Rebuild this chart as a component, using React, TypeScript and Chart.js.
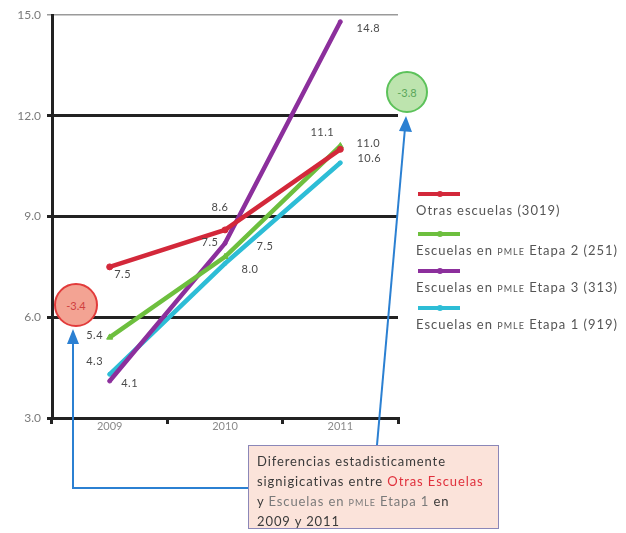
import React, { useEffect, useRef } from "react";
import { Chart, registerables } from "chart.js";

Chart.register(...registerables);

// ---- data ----
const years = ["2009", "2010", "2011"];
const otrasEscuelas = [7.5, 8.6, 11.0];
const etapa2 = [5.4, 7.8, 11.1];
const etapa3 = [4.1, 8.2, 14.8];
const etapa1 = [4.3, 7.6, 10.6];
const otrasLabels = ["7.5", "8.6", "11.0"];
const etapa2Labels = ["5.4", "7.5", "11.1"];
const etapa3Labels = ["4.1", "7.5", "14.8"];
const etapa1Labels = ["4.3", "8.0", "10.6"];
const yTickValues = [3, 6, 9, 12, 15];
const seriesNames = [
  "Otras escuelas (3019)",
  "Escuelas en PMLE Etapa 2 (251)",
  "Escuelas en PMLE Etapa 3 (313)",
  "Escuelas en PMLE Etapa 1 (919)",
];
const diffLeft = "-3.4";
const diffRight = "-3.8";

const COLORS = ["#d3283a", "#6dbf3e", "#8c2f9c", "#2dbdd6"];
const FONT = "Lato, 'Open Sans', sans-serif";

// label offsets (px) relative to each point
const LABEL_OFFSETS = [
  [[13, 8], [-5, -22], [28, -6]],
  [[-15, -2], [40, -10], [-18, -14]],
  [[20, 2], [-15, -1], [28, 7]],
  [[-15, -13], [25, 6], [29, -4]],
];

const pointLabelPlugin = {
  id: "pointLabels",
  afterDatasetsDraw(chart: any) {
    const ctx = chart.ctx;
    const labelSets = [otrasLabels, etapa2Labels, etapa3Labels, etapa1Labels];
    ctx.save();
    ctx.font = `11px ${FONT}`;
    try {
      (ctx as any).letterSpacing = "0.5px";
    } catch (e) {}
    ctx.fillStyle = "#4a4a4a";
    ctx.textAlign = "center";
    ctx.textBaseline = "middle";
    chart.data.datasets.forEach((_: any, i: number) => {
      const meta = chart.getDatasetMeta(i);
      meta.data.forEach((pt: any, j: number) => {
        const off = LABEL_OFFSETS[i][j];
        ctx.fillText(labelSets[i][j], pt.x + off[0], pt.y + off[1]);
      });
    });
    ctx.restore();
  },
};

function ChartCanvas() {
  const ref = useRef<HTMLCanvasElement | null>(null);
  useEffect(() => {
    if (!ref.current) return;
    const series = [otrasEscuelas, etapa2, etapa3, etapa1];
    const styles = ["circle", "triangle", "circle", "circle"];
    const radii = [3, 3.5, 2, 2];
    const chart = new Chart(ref.current, {
      type: "line",
      data: {
        labels: years,
        datasets: series.map((d, i) => ({
          label: seriesNames[i],
          data: d,
          borderColor: COLORS[i],
          backgroundColor: COLORS[i],
          borderWidth: 4.5,
          pointStyle: styles[i] as any,
          pointRadius: radii[i],
          pointBorderWidth: 1,
          tension: 0,
        })),
      },
      options: {
        responsive: false,
        animation: false,
        layout: { padding: { left: 0, top: 15, right: 228, bottom: 0 } },
        plugins: { legend: { display: false }, tooltip: { enabled: false } },
        scales: {
          x: {
            type: "category",
            offset: true,
            grid: {
              offset: true,
              drawOnChartArea: false,
              drawTicks: true,
              tickLength: 6,
              color: "#222",
              lineWidth: 3,
            },
            border: { display: true, color: "#222", width: 3 },
            ticks: {
              font: { family: FONT, size: 11 },
              color: "#8a8a8a",
              padding: -4,
              maxRotation: 0,
            },
            afterFit: (s: any) => {
              s.height = 115;
            },
          },
          y: {
            min: 3,
            max: 15,
            afterBuildTicks: (s: any) => {
              s.ticks = yTickValues.map((v) => ({ value: v }));
            },
            ticks: {
              callback: (v: any) => Number(v).toFixed(1),
              font: { family: FONT, size: 12 },
              color: "#7a7a7a",
              padding: 6,
            },
            grid: {
              color: (c: any) => (c.tick && c.tick.value === 15 ? "#9a9a9a" : "#222"),
              lineWidth: (c: any) => (c.tick && c.tick.value === 15 ? 1.5 : 3),
              tickLength: 5,
              drawTicks: true,
            },
            border: { display: true, color: "#222", width: 3 },
            afterFit: (s: any) => {
              s.width = 52;
            },
          },
        },
      },
      plugins: [pointLabelPlugin],
    });
    return () => chart.destroy();
  }, []);
  return <canvas ref={ref} width={626} height={533} style={{ display: "block" }} />;
}

function Pmle() {
  return <span style={{ fontVariant: "small-caps" }}>pmle</span>;
}

function renderName(name: string) {
  const parts = name.split("PMLE");
  if (parts.length === 1) return name;
  return (
    <>
      {parts[0]}
      <Pmle />
      {parts[1]}
    </>
  );
}

export default function App() {
  const legendTops = [194, 234, 271, 308];
  return (
    <div
      style={{
        position: "absolute",
        left: 0,
        top: 0,
        width: 626,
        height: 533,
        overflow: "hidden",
        background: "#fff",
        fontFamily: FONT,
      }}
    >
      <ChartCanvas />
      {/* legend */}
      {seriesNames.map((n, i) => (
        <React.Fragment key={n}>
          <div
            style={{
              position: "absolute",
              left: 418,
              top: legendTops[i] - 2,
              width: 42,
              height: 4,
              background: COLORS[i],
            }}
          />
          <div
            style={{
              position: "absolute",
              left: 437,
              top: legendTops[i] - 3,
              width: 6,
              height: 6,
              borderRadius: 3,
              background: COLORS[i],
            }}
          />
          <div
            style={{
              position: "absolute",
              left: 416,
              top: legendTops[i] + 7,
              fontSize: 13,
              letterSpacing: "1px",
              lineHeight: "18px",
              color: "#555",
              whiteSpace: "nowrap",
            }}
          >
            {renderName(n)}
          </div>
        </React.Fragment>
      ))}
      {/* arrows */}
      <svg
        width={626}
        height={533}
        style={{ position: "absolute", left: 0, top: 0, pointerEvents: "none" }}
      >
        <polyline
          points="248,488 73,488 73,342"
          fill="none"
          stroke="#2b80d2"
          strokeWidth={2}
        />
        <polygon points="73,329 67,344 79,344" fill="#2b80d2" />
        <line x1={377} y1={445} x2={405} y2={128} stroke="#2b80d2" strokeWidth={2} />
        <polygon points="406,116 399,131 412,132" fill="#2b80d2" />
      </svg>
      {/* circles */}
      <div
        style={{
          position: "absolute",
          left: 54,
          top: 283,
          width: 40,
          height: 40,
          borderRadius: "50%",
          background: "#f3a393",
          border: "2px solid #e23b3b",
          color: "#cf3f3f",
          fontSize: 11,
          display: "flex",
          alignItems: "center",
          justifyContent: "center",
        }}
      >
        {diffLeft}
      </div>
      <div
        style={{
          position: "absolute",
          left: 386,
          top: 71,
          width: 38,
          height: 38,
          borderRadius: "50%",
          background: "#bde4ae",
          border: "2px solid #5cc25a",
          color: "#5aa65a",
          fontSize: 11,
          display: "flex",
          alignItems: "center",
          justifyContent: "center",
        }}
      >
        {diffRight}
      </div>
      {/* note box */}
      <div
        style={{
          position: "absolute",
          left: 248,
          top: 445,
          width: 249,
          height: 82,
          background: "#fbe3da",
          border: "1.5px solid #8b87b8",
          boxSizing: "content-box",
          padding: 0,
        }}
      >
        <div
          style={{
            position: "absolute",
            left: 8,
            top: 5,
            fontSize: 13,
            letterSpacing: "0.9px",
            lineHeight: "20px",
            color: "#3a3a3a",
            whiteSpace: "nowrap",
          }}
        >
          <div>Diferencias estadisticamente</div>
          <div>
            signigicativas entre <span style={{ color: "#e0303c" }}>Otras Escuelas</span>
          </div>
          <div>
            y <span style={{ color: "#7a7a7a" }}>Escuelas en <Pmle /> Etapa 1</span> en
          </div>
          <div>2009 y 2011</div>
        </div>
      </div>
    </div>
  );
}
